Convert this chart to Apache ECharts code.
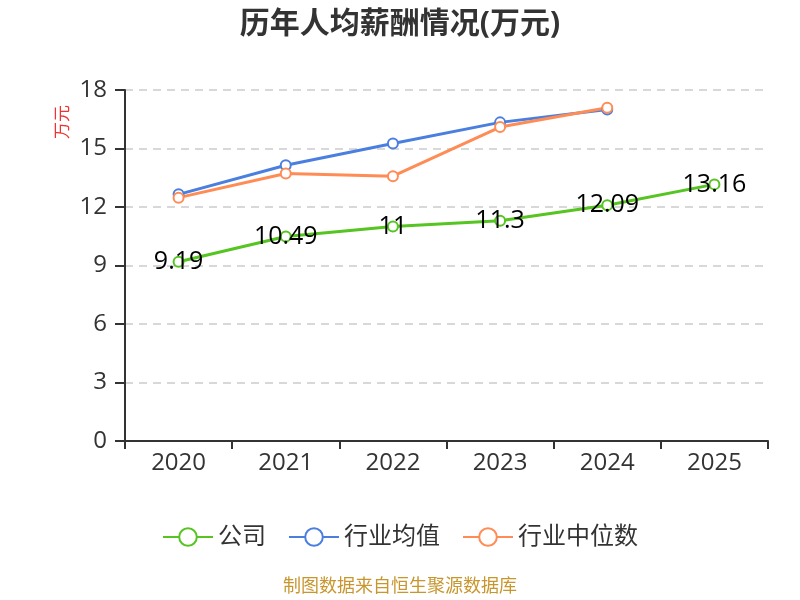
<!DOCTYPE html>
<html><head><meta charset="utf-8">
<script src="https://cdn.jsdelivr.net/npm/echarts@6/dist/echarts.min.js"></script>
<style>html,body{margin:0;padding:0;}#c{width:800px;height:600px;}</style>
</head><body><div id="c"></div>
<script>
var years = ['2020','2021','2022','2023','2024','2025'];
var company = [9.19, 10.49, 11, 11.3, 12.09, 13.16];
var industryAvg = [12.65, 14.14, 15.26, 16.34, 17.0, null];
var industryMedian = [12.48, 13.72, 13.58, 16.1, 17.09, null];
var yTicks = {min: 0, max: 18, interval: 3};

var chart = echarts.init(document.getElementById('c'));
var font = '"Open Sans", "Noto Sans CJK SC", sans-serif';
chart.setOption({
  animation: false,
  textStyle: {fontFamily: font},
  title: {text: '历年人均薪酬情况(万元)', left: 'center', top: 4,
    textStyle: {fontSize: 30, fontWeight: 'bold', color: '#333', fontFamily: font}},
  grid: {left: 125, right: 32, top: 90, bottom: 159},
  legend: {bottom: 46, itemWidth: 50, itemHeight: 22, itemGap: 22,
    textStyle: {fontSize: 24, color: '#333'},
    data: ['公司','行业均值','行业中位数']},
  graphic: [
    {type: 'text', left: 'center', top: 578,
      style: {text: '制图数据来自恒生聚源数据库', fill: '#c8962e', fontSize: 18, fontFamily: font}},
    {type: 'text', x: 63, y: 122, rotation: Math.PI / 2,
      style: {text: '万元', fill: '#e33', fontSize: 17, fontFamily: font, align: 'center', verticalAlign: 'middle'}}
  ],
  xAxis: {type: 'category', data: years, boundaryGap: true,
    axisLine: {lineStyle: {color: '#333', width: 2}},
    axisTick: {show: true, length: 8, lineStyle: {color: '#333', width: 2}},
    axisLabel: {fontSize: 24, color: '#333', margin: 10}},
  yAxis: {type: 'value', min: yTicks.min, max: yTicks.max, interval: yTicks.interval,
    axisLine: {show: true, lineStyle: {color: '#333', width: 2}},
    axisTick: {show: true, length: 10, lineStyle: {color: '#333', width: 2}},
    axisLabel: {fontSize: 24, color: '#333', margin: 18},
    splitLine: {lineStyle: {color: '#ccc', type: [8, 6], width: 1.5}}},
  series: [
    {name: '公司', type: 'line', data: company, symbol: 'emptyCircle', symbolSize: 10,
      itemStyle: {color: '#56c421', borderWidth: 1.5},
      lineStyle: {width: 3, color: '#56c421'},
      label: {show: true, position: 'inside', fontSize: 25, color: '#000'}},
    {name: '行业均值', type: 'line', data: industryAvg, symbol: 'emptyCircle', symbolSize: 10,
      itemStyle: {color: '#4a7fe0', borderWidth: 1.5},
      lineStyle: {width: 3, color: '#4a7fe0'}},
    {name: '行业中位数', type: 'line', data: industryMedian, symbol: 'emptyCircle', symbolSize: 10,
      itemStyle: {color: '#ff8c55', borderWidth: 1.5},
      lineStyle: {width: 3, color: '#ff8c55'}}
  ]
});
</script></body></html>
